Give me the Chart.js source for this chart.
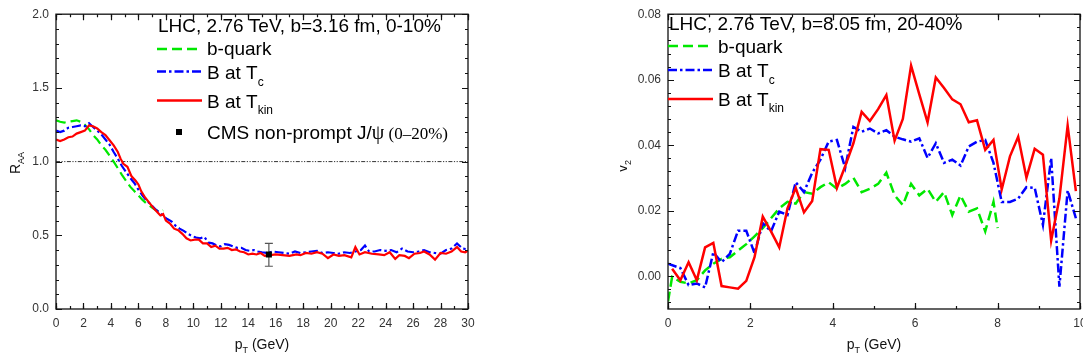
<!DOCTYPE html>
<html>
<head>
<meta charset="utf-8">
<script src="https://cdn.jsdelivr.net/npm/chart.js@4.4.0/dist/chart.umd.min.js"></script>
<style>
  html, body { margin: 0; padding: 0; background: #fff; overflow: hidden; width: 1083px; height: 363px; }
  .panel { position: absolute; top: 0; height: 363px; }
  #leftBox { left: 0; width: 490px; }
  #rightBox { left: 620px; width: 480px; }
</style>
</head>
<body>
<div class="panel" id="leftBox"><canvas id="raaChart"></canvas></div>
<div class="panel" id="rightBox"><canvas id="v2Chart"></canvas></div>
<script>
// ---- Left panel: R_AA vs pT ----
const raaKinX = [0, 0.3, 0.6, 0.9, 1.2, 1.5, 1.8, 2.1, 2.4, 2.7, 3.0, 3.3, 3.6, 3.9, 4.2, 4.5, 4.7, 4.9, 5.2, 5.5,
  5.8, 6.0, 6.2, 6.5, 6.8, 7.1, 7.4, 7.6, 7.8, 8.0, 8.3, 8.6, 8.9, 9.2, 9.5, 9.8, 10.1, 10.4, 10.7, 11.0,
  11.3, 11.6, 11.9, 12.2, 12.5, 12.8, 13.1, 13.4, 13.7, 14.0, 14.3, 14.6, 14.9, 15.2, 15.6, 16.0, 16.5, 17.0, 17.5, 17.8,
  18.2, 18.6, 19.0, 19.4, 19.8, 20.2, 20.6, 21.0, 21.5, 21.8, 22.1, 22.5, 23.0, 23.5, 23.9, 24.3, 24.7, 25.0, 25.4, 25.7,
  26.1, 26.5, 26.8, 27.2, 27.6, 28.0, 28.4, 28.8, 29.2, 29.5, 29.8, 30.0];
const raaKinY = [1.15, 1.14, 1.15, 1.165, 1.17, 1.19, 1.20, 1.21, 1.245, 1.24, 1.225, 1.20, 1.18, 1.145, 1.11, 1.065, 1.02, 0.985, 0.965, 0.90,
  0.87, 0.845, 0.80, 0.755, 0.72, 0.685, 0.655, 0.635, 0.645, 0.60, 0.58, 0.545, 0.535, 0.51, 0.48, 0.465, 0.47, 0.47, 0.445, 0.445,
  0.42, 0.43, 0.41, 0.41, 0.415, 0.40, 0.405, 0.39, 0.385, 0.37, 0.375, 0.37, 0.38, 0.36, 0.365, 0.37, 0.365, 0.36, 0.37, 0.365,
  0.38, 0.375, 0.385, 0.375, 0.345, 0.37, 0.36, 0.365, 0.35, 0.42, 0.37, 0.385, 0.375, 0.37, 0.365, 0.385, 0.34, 0.365, 0.36, 0.345,
  0.375, 0.38, 0.39, 0.37, 0.335, 0.38, 0.375, 0.39, 0.42, 0.39, 0.385, 0.395];

const raaTcX = [0, 0.3, 0.6, 0.9, 1.2, 1.5, 1.8, 2.1, 2.4, 2.7, 3.0, 3.3, 3.6, 3.9, 4.2, 4.5, 4.8, 5.1, 5.4, 5.7,
  6.0, 6.3, 6.6, 6.9, 7.2, 7.5, 7.8, 8.1, 8.4, 8.7, 9.0, 9.3, 9.6, 9.9, 10.2, 10.5, 10.8, 11.1, 11.4, 11.7,
  12.0, 12.3, 12.6, 12.9, 13.2, 13.5, 13.8, 14.1, 14.4, 14.7, 15.0, 15.4, 15.8, 16.2, 16.6, 17.0, 17.4, 17.8, 18.2, 18.6,
  19.0, 19.4, 19.8, 20.2, 20.6, 21.0, 21.4, 21.8, 22.2, 22.5, 22.8, 23.2, 23.6, 24.0, 24.4, 24.8, 25.2, 25.6, 26.0, 26.4,
  26.8, 27.2, 27.6, 28.0, 28.4, 28.8, 29.2, 29.6, 30.0];
const raaTcY = [1.21, 1.20, 1.21, 1.23, 1.235, 1.24, 1.245, 1.24, 1.26, 1.235, 1.21, 1.185, 1.15, 1.115, 1.065, 1.02, 0.97, 0.93, 0.89, 0.855,
  0.81, 0.77, 0.735, 0.71, 0.68, 0.655, 0.63, 0.61, 0.595, 0.565, 0.545, 0.53, 0.51, 0.495, 0.485, 0.48, 0.49, 0.45, 0.445, 0.43,
  0.425, 0.44, 0.435, 0.425, 0.415, 0.415, 0.40, 0.395, 0.40, 0.39, 0.385, 0.38, 0.39, 0.385, 0.38, 0.375, 0.39, 0.38, 0.385, 0.39,
  0.395, 0.38, 0.385, 0.38, 0.375, 0.385, 0.38, 0.39, 0.40, 0.43, 0.39, 0.39, 0.40, 0.395, 0.40, 0.385, 0.41, 0.39, 0.385, 0.39,
  0.40, 0.385, 0.38, 0.375, 0.40, 0.41, 0.445, 0.41, 0.405];

const raaQuarkX = [0, 0.3, 0.6, 0.9, 1.2, 1.5, 1.8, 2.1, 2.4, 2.7, 3.0, 3.3, 3.6, 3.9, 4.2, 4.5, 4.8, 5.1, 5.4, 5.7,
  6.0, 6.3, 6.6, 6.9, 7.2, 7.5, 7.8];
const raaQuarkY = [1.28, 1.27, 1.265, 1.27, 1.275, 1.28, 1.27, 1.25, 1.22, 1.18, 1.15, 1.11, 1.08, 1.04, 1.0, 0.955, 0.91, 0.87, 0.83, 0.80,
  0.77, 0.74, 0.715, 0.695, 0.675, 0.66, 0.67];

const cmsX = [15.5];
const cmsY = [0.37];
const cmsLow = [0.29];
const cmsHigh = [0.445];

const refX = [0, 30];
const refY = [1, 1];

const raaXTicks = [0, 2, 4, 6, 8, 10, 12, 14, 16, 18, 20, 22, 24, 26, 28, 30];
const raaYTicks = [0, 0.5, 1.0, 1.5, 2.0];
const raaYLabels = ['0.0', '0.5', '1.0', '1.5', '2.0'];

// ---- Right panel: v2 vs pT ----
const v2KinX = [0.1, 0.3, 0.5, 0.7, 0.9, 1.1, 1.3, 1.5, 1.7, 1.9, 2.1, 2.3, 2.5, 2.7, 2.9, 3.1, 3.3, 3.5, 3.7, 3.9,
  4.1, 4.3, 4.5, 4.7, 4.9, 5.1, 5.3, 5.5, 5.7, 5.9, 6.1, 6.3, 6.5, 6.7, 6.9, 7.1, 7.3, 7.5, 7.7, 7.9,
  8.1, 8.3, 8.5, 8.7, 8.9, 9.1, 9.3, 9.5, 9.7, 9.9];
const v2KinY = [0.0023, -0.0012, 0.0043, -0.0012, 0.0088, 0.0102, -0.003, -0.0034, -0.0038, -0.0014,
  0.0058, 0.0182, 0.0137, 0.0088, 0.0207, 0.027, 0.0195, 0.023, 0.0388, 0.0386,
  0.027, 0.0336, 0.0406, 0.0502, 0.0474, 0.051, 0.0553, 0.0414, 0.048, 0.0643,
  0.0555, 0.047, 0.0607, 0.0575, 0.054, 0.0525, 0.047, 0.0476, 0.0386, 0.0416,
  0.0265, 0.0366, 0.0426, 0.0301, 0.0389, 0.0371, 0.0109, 0.0237, 0.046, 0.026];

const v2TcX = [0, 0.3, 0.5, 0.7, 0.9, 1.1, 1.3, 1.5, 1.7, 1.9, 2.1, 2.3, 2.5, 2.7, 2.9, 3.1, 3.3, 3.5, 3.7, 3.9,
  4.1, 4.3, 4.5, 4.7, 4.9, 5.1, 5.3, 5.5, 5.7, 5.9, 6.1, 6.3, 6.5, 6.7, 6.9, 7.1, 7.3, 7.5, 7.7, 7.9,
  8.1, 8.3, 8.5, 8.7, 8.9, 9.1, 9.3, 9.5, 9.7, 9.9];
const v2TcY = [0.0038, 0.0025, -0.0027, -0.0022, -0.0034, 0.0073, 0.0043, 0.0068, 0.0139, 0.0139,
  0.007, 0.0162, 0.0137, 0.0197, 0.0187, 0.0287, 0.0257, 0.0316, 0.0356, 0.0411,
  0.0416, 0.0331, 0.0456, 0.0441, 0.0451, 0.0436, 0.0446, 0.0426, 0.0418, 0.0411,
  0.0421, 0.0361, 0.0406, 0.0346, 0.0356, 0.0338, 0.0396, 0.0411, 0.0416, 0.0346,
  0.0227, 0.0227, 0.0237, 0.0272, 0.027, 0.0157, 0.0361, -0.0032, 0.0262, 0.0177];

const v2QuarkX = [0, 0.1, 0.3, 0.5, 0.7, 0.9, 1.1, 1.3, 1.5, 1.7, 1.9, 2.1, 2.3, 2.5, 2.7, 2.9, 3.1, 3.3, 3.5, 3.7,
  3.9, 4.1, 4.3, 4.5, 4.7, 4.9, 5.1, 5.3, 5.5, 5.7, 5.9, 6.1, 6.3, 6.5, 6.7, 6.9, 7.1, 7.3, 7.5, 7.7,
  7.9, 8.0];
const v2QuarkY = [-0.0077, -0.0002, -0.0017, -0.0022, -0.0012, 0.0018, 0.0038, 0.0053, 0.0058, 0.0078,
  0.0098, 0.0122, 0.0147, 0.0177, 0.0207, 0.0227, 0.0222, 0.0257, 0.0252, 0.0272,
  0.0287, 0.0267, 0.0282, 0.0301, 0.0257, 0.0267, 0.0282, 0.0316, 0.0247, 0.0217,
  0.0282, 0.0247, 0.0267, 0.0227, 0.0257, 0.0187, 0.0247, 0.0197, 0.0207, 0.0137,
  0.0227, 0.0147];

const v2XTicks = [0, 2, 4, 6, 8, 10];
const v2YTicks = [0, 0.02, 0.04, 0.06, 0.08];
const v2YLabels = ['0.00', '0.02', '0.04', '0.06', '0.08'];

// ---- styling ----
const FONT = '"Liberation Sans", Arial, sans-serif';
const SERIF = '"Liberation Serif", "Times New Roman", serif';
const RED = '#ff0000';
const BLUE = '#0000ff';
const GREEN = '#00e800';
const DASH_QUARK = [10, 5];
const DASH_TC = [9, 3, 2.5, 3];

function toPoints(xs, ys) {
    return xs.map((x, i) => ({ x: x, y: ys[i] }));
}

// draws a run of text pieces: [text, size, dy, family]
function drawRich(ctx, x, y, parts) {
    let cx = x;
    parts.forEach(p => {
        ctx.font = p[1] + 'px ' + (p[3] || FONT);
        ctx.fillText(p[0], cx, y + (p[2] || 0));
        cx += ctx.measureText(p[0]).width;
    });
    return cx - x;
}

function richWidth(ctx, parts) {
    let w = 0;
    parts.forEach(p => {
        ctx.font = p[1] + 'px ' + (p[3] || FONT);
        w += ctx.measureText(p[0]).width;
    });
    return w;
}

function minorValues(min, max, step) {
    const out = [];
    const k0 = Math.ceil(min / step - 1e-9);
    const k1 = Math.floor(max / step + 1e-9);
    for (let k = k0; k <= k1; k++) out.push(k * step);
    return out;
}

// box frame, inward ticks, error bars, legend and axis titles
function framePlugin(cfg) {
    return {
        id: 'frame',
        beforeDatasetsDraw(chart) {
            if (!cfg.errors) return;
            const { ctx, scales: { x, y } } = chart;
            ctx.save();
            ctx.setLineDash([]);
            ctx.strokeStyle = '#555';
            ctx.lineWidth = 1.2;
            cfg.errors.x.forEach((v, i) => {
                const px = x.getPixelForValue(v);
                const top = y.getPixelForValue(cfg.errors.hi[i]);
                const bot = y.getPixelForValue(cfg.errors.lo[i]);
                ctx.beginPath();
                ctx.moveTo(px, top); ctx.lineTo(px, bot);
                ctx.moveTo(px - 4, top); ctx.lineTo(px + 4, top);
                ctx.moveTo(px - 4, bot); ctx.lineTo(px + 4, bot);
                ctx.stroke();
            });
            ctx.restore();
        },
        afterDraw(chart) {
            const { ctx, chartArea: a, scales: { x, y } } = chart;
            ctx.save();
            ctx.setLineDash([]);
            ctx.strokeStyle = '#222';
            ctx.lineWidth = 1.4;
            ctx.strokeRect(a.left, a.top, a.right - a.left, a.bottom - a.top);

            ctx.lineWidth = 1.2;
            ctx.strokeStyle = '#111';
            const xTicks = (vals, len) => vals.forEach(v => {
                const p = Math.round(x.getPixelForValue(v)) + 0.5;
                ctx.beginPath();
                ctx.moveTo(p, a.bottom); ctx.lineTo(p, a.bottom - len);
                ctx.moveTo(p, a.top); ctx.lineTo(p, a.top + len);
                ctx.stroke();
            });
            const yTicks = (vals, len) => vals.forEach(v => {
                const p = Math.round(y.getPixelForValue(v)) + 0.5;
                ctx.beginPath();
                ctx.moveTo(a.left, p); ctx.lineTo(a.left + len, p);
                ctx.moveTo(a.right, p); ctx.lineTo(a.right - len, p);
                ctx.stroke();
            });
            xTicks(minorValues(cfg.xRange[0], cfg.xRange[1], cfg.xMinor), 3);
            yTicks(minorValues(cfg.yRange[0], cfg.yRange[1], cfg.yMinor), 3);
            xTicks(cfg.xMajor, 6);
            yTicks(cfg.yMajor, 6);

            // legend
            ctx.fillStyle = '#000';
            ctx.textBaseline = 'alphabetic';
            ctx.textAlign = 'left';
            ctx.font = '19px ' + FONT;
            ctx.fillText(cfg.title.text, cfg.title.x, cfg.title.y);
            cfg.legend.forEach(item => {
                if (item.marker) {
                    ctx.fillStyle = '#000';
                    ctx.fillRect(item.mx - 3, item.my - 3, 6, 6);
                } else {
                    ctx.save();
                    ctx.strokeStyle = item.color;
                    ctx.lineWidth = item.width;
                    ctx.setLineDash(item.dash || []);
                    ctx.beginPath();
                    ctx.moveTo(item.x1, item.ly);
                    ctx.lineTo(item.x2, item.ly);
                    ctx.stroke();
                    ctx.restore();
                }
                ctx.fillStyle = '#000';
                drawRich(ctx, item.tx, item.ty, item.parts);
            });

            // x axis title
            ctx.fillStyle = '#111';
            const xw = richWidth(ctx, cfg.xTitle);
            drawRich(ctx, (a.left + a.right) / 2 - xw / 2, cfg.xTitleY, cfg.xTitle);

            // y axis title (rotated)
            ctx.save();
            ctx.translate(cfg.yTitleX, cfg.yTitleCY);
            ctx.rotate(-Math.PI / 2);
            const yw = richWidth(ctx, cfg.yTitle);
            drawRich(ctx, -yw / 2, 0, cfg.yTitle);
            ctx.restore();

            ctx.restore();
        }
    };
}

function axisOptions(ticks, labels, min, max, fitProp, fitVal) {
    return {
        type: 'linear',
        min: min,
        max: max,
        afterBuildTicks: s => { s.ticks = ticks.map(v => ({ value: v })); },
        afterFit: s => { s[fitProp] = fitVal; },
        grid: { display: false, drawTicks: false },
        border: { display: false },
        title: { display: false },
        ticks: {
            padding: 7,
            color: '#333',
            autoSkip: false,
            maxRotation: 0,
            font: { family: FONT, size: 12 },
            callback: (v, i) => labels[i]
        }
    };
}

const lineBase = { pointRadius: 0, fill: false, tension: 0, borderJoinStyle: 'miter' };

// left chart
new Chart(document.getElementById('raaChart'), {
    type: 'line',
    data: {
        datasets: [
            { label: 'CMS non-prompt J/psi', data: toPoints(cmsX, cmsY), showLine: false, pointStyle: 'rect',
              pointRadius: 4.3, pointBackgroundColor: '#000', pointBorderColor: '#000', pointBorderWidth: 0 },
            Object.assign({ label: 'B at Tkin', data: toPoints(raaKinX, raaKinY), borderColor: RED, borderWidth: 2.2 }, lineBase),
            Object.assign({ label: 'B at Tc', data: toPoints(raaTcX, raaTcY), borderColor: BLUE, borderWidth: 2.2, borderDash: DASH_TC }, lineBase),
            Object.assign({ label: 'b-quark', data: toPoints(raaQuarkX, raaQuarkY), borderColor: GREEN, borderWidth: 2.2, borderDash: DASH_QUARK }, lineBase),
            Object.assign({ label: 'ref', data: toPoints(refX, refY), borderColor: '#333', borderWidth: 1, borderDash: [4, 1.5, 1.2, 1.5, 1.2, 1.5] }, lineBase)
        ]
    },
    options: {
        animation: false,
        responsive: true,
        maintainAspectRatio: false,
        layout: { padding: { top: 7, right: 22, left: 0, bottom: 0 } },
        plugins: { legend: { display: false }, tooltip: { enabled: false } },
        scales: {
            x: axisOptions(raaXTicks, raaXTicks.map(String), 0, 30, 'height', 54),
            y: axisOptions(raaYTicks, raaYLabels, 0, 2, 'width', 56)
        }
    },
    plugins: [framePlugin({
        xMajor: raaXTicks, yMajor: raaYTicks, xMinor: 1, yMinor: 0.1,
        xRange: [0, 30], yRange: [0, 2],
        errors: { x: cmsX, lo: cmsLow, hi: cmsHigh },
        title: { text: 'LHC, 2.76 TeV, b=3.16 fm, 0-10%', x: 158, y: 31.5 },
        legend: [
            { color: GREEN, width: 2.5, dash: DASH_QUARK, x1: 157, x2: 202, ly: 49, tx: 207, ty: 55, parts: [['b-quark', 19]] },
            { color: BLUE, width: 2.5, dash: DASH_TC, x1: 157, x2: 202, ly: 71.5, tx: 207, ty: 78.5, parts: [['B at T', 19], ['c', 12, 7]] },
            { color: RED, width: 2.5, x1: 157, x2: 202, ly: 100.5, tx: 207, ty: 108, parts: [['B at T', 19], ['kin', 12, 6]] },
            { marker: true, mx: 179, my: 132, tx: 207, ty: 138.5,
              parts: [['CMS non-prompt J/', 19], ['\u03C8', 20, 0, SERIF], [' (0\u201320%)', 17, 0, SERIF]] }
        ],
        xTitle: [['p', 14], ['T', 9, 4], [' (GeV)', 14]],
        xTitleY: 349,
        yTitle: [['R', 14], ['AA', 9, 4]],
        yTitleX: 20,
        yTitleCY: 163
    })]
});

// right chart
new Chart(document.getElementById('v2Chart'), {
    type: 'line',
    data: {
        datasets: [
            Object.assign({ label: 'B at Tkin', data: toPoints(v2KinX, v2KinY), borderColor: RED, borderWidth: 2.5 }, lineBase),
            Object.assign({ label: 'B at Tc', data: toPoints(v2TcX, v2TcY), borderColor: BLUE, borderWidth: 2.5, borderDash: DASH_TC }, lineBase),
            Object.assign({ label: 'b-quark', data: toPoints(v2QuarkX, v2QuarkY), borderColor: GREEN, borderWidth: 2.5, borderDash: DASH_QUARK }, lineBase)
        ]
    },
    options: {
        animation: false,
        responsive: true,
        maintainAspectRatio: false,
        layout: { padding: { top: 7, right: 20, left: 0, bottom: 0 } },
        plugins: { legend: { display: false }, tooltip: { enabled: false } },
        scales: {
            x: axisOptions(v2XTicks, v2XTicks.map(String), 0, 10, 'height', 54),
            y: axisOptions(v2YTicks, v2YLabels, -0.01, 0.08, 'width', 48)
        }
    },
    plugins: [framePlugin({
        xMajor: v2XTicks, yMajor: v2YTicks, xMinor: 1, yMinor: 0.004,
        xRange: [0, 10], yRange: [-0.01, 0.08],
        title: { text: 'LHC, 2.76 TeV, b=8.05 fm, 20-40%', x: 49, y: 29.5 },
        legend: [
            { color: GREEN, width: 2.5, dash: DASH_QUARK, x1: 48, x2: 93, ly: 46, tx: 98, ty: 52.5, parts: [['b-quark', 19]] },
            { color: BLUE, width: 2.5, dash: DASH_TC, x1: 48, x2: 93, ly: 70, tx: 98, ty: 77, parts: [['B at T', 19], ['c', 12, 7]] },
            { color: RED, width: 2.5, x1: 48, x2: 93, ly: 99, tx: 98, ty: 106, parts: [['B at T', 19], ['kin', 12, 6]] }
        ],
        xTitle: [['p', 14], ['T', 9, 4], [' (GeV)', 14]],
        xTitleY: 349,
        yTitle: [['v', 14], ['2', 9, 4]],
        yTitleX: 7,
        yTitleCY: 166
    })]
});
</script>
</body>
</html>
